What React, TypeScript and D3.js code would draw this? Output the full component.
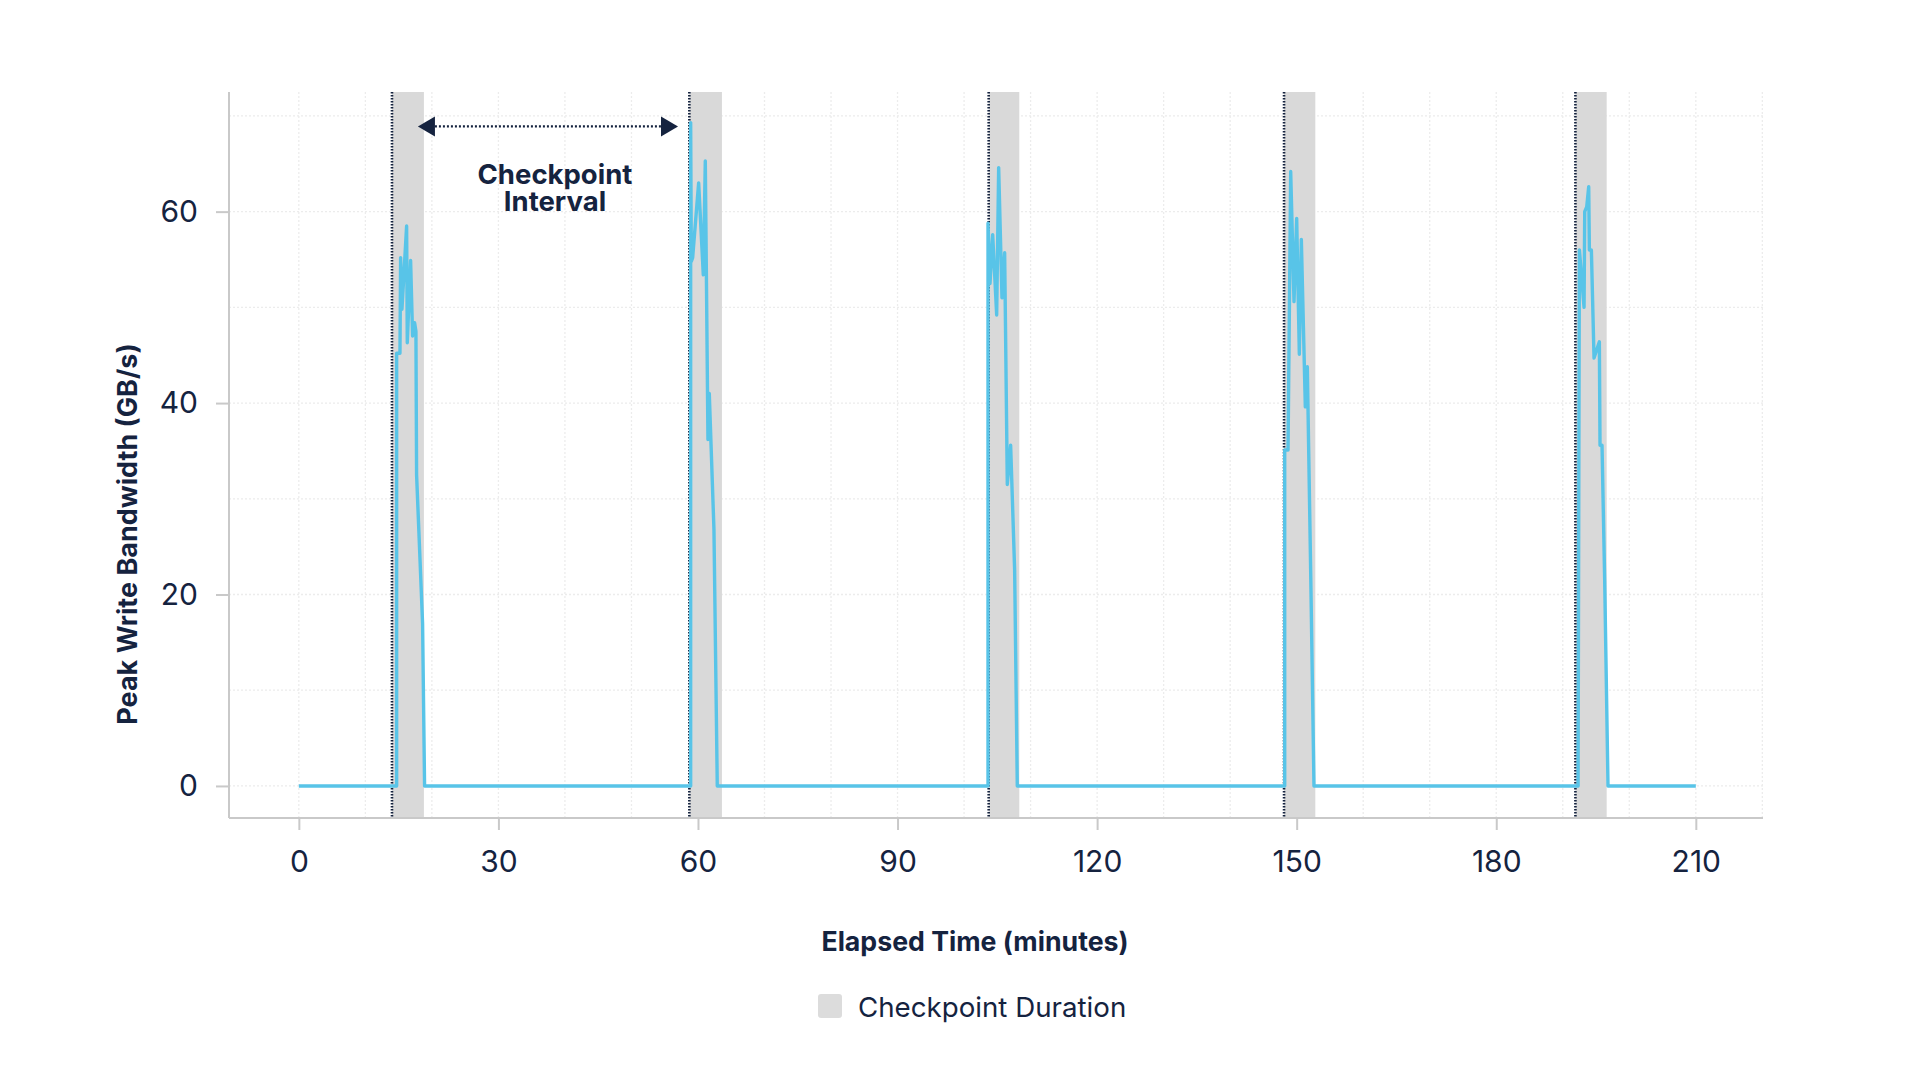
import { useEffect, useRef } from "react";
import * as d3 from "d3";

// checkpoint windows (minutes)
const checkpointStarts = [14.0, 58.7, 103.7, 148.1, 191.9];
const checkpointEnds = [18.8, 63.6, 108.3, 152.8, 196.6];

// write bursts, [minute, GB/s]
const burst1: [number, number][] = [
  [14.7, 0], [14.7, 45.2], [15.2, 45.2], [15.3, 55.2], [15.5, 49.8], [16.2, 58.5],
  [16.3, 46.3], [16.8, 54.9], [17.1, 47], [17.4, 48.4], [17.6, 47.5], [17.7, 32.5],
  [18.6, 17], [18.9, 0],
];
const burst2: [number, number][] = [
  [58.9, 0], [58.9, 69.3], [59.0, 54.8], [59.2, 55.2], [60.1, 63], [60.8, 53.4],
  [61.1, 65.3], [61.5, 36.2], [61.7, 41], [62.4, 26.8], [62.9, 0],
];
const burst3: [number, number][] = [
  [103.6, 0], [103.6, 58.8], [103.9, 52.5], [104.3, 57.6], [104.9, 49.2], [105.2, 64.6],
  [105.7, 51], [106.1, 55.7], [106.5, 31.5], [107.0, 35.6], [107.6, 22.6], [108.0, 0],
];
const burst4: [number, number][] = [
  [148.2, 0], [148.2, 35.1], [148.7, 35.1], [149.1, 64.2], [149.6, 50.6], [150.0, 59.3],
  [150.4, 45.1], [150.7, 57.1], [151.3, 39.6], [151.6, 43.8], [152.1, 22.6], [152.6, 0],
];
const burst5: [number, number][] = [
  [192.3, 0], [192.5, 56], [193.2, 50], [193.3, 60], [193.6, 60.5], [193.9, 62.6],
  [194.0, 56], [194.3, 56], [194.7, 44.7], [195.5, 46.4], [195.6, 35.6], [195.9, 35.6],
  [196.3, 21.5], [196.8, 0],
];
const series: [number, number][] = [
  [0, 0], ...burst1, ...burst2, ...burst3, ...burst4, ...burst5, [210, 0],
];

const timeTicks = [0, 30, 60, 90, 120, 150, 180, 210];
const bandwidthTicks = [0, 20, 40, 60];
const timeGrid = d3.range(0, 221, 10);
const bandwidthGrid = d3.range(0, 71, 10);

// annotation arrow between checkpoints
const intervalArrow = [17.9, 57.0];
const arrowLevel = 68.9;
const intervalLabel = ["Checkpoint", "Interval"];
const intervalLabelAt = 38.5;

const navy = "#15233f";
const font = "Inter, 'Noto Sans', sans-serif";

export default function App() {
  const svgRef = useRef<SVGSVGElement>(null);

  useEffect(() => {
    const svg = d3.select(svgRef.current);
    svg.selectAll("*").remove();

    const left = 229, right = 1763, top = 92, bottom = 818;
    const x = d3.scaleLinear().domain([-10.5, 220.1]).range([left, right]);
    const y = d3.scaleLinear().domain([-3.35, 72.5]).range([bottom, top]);

    // grid
    svg.append("g")
      .selectAll("line")
      .data(bandwidthGrid)
      .enter()
      .append("line")
      .attr("x1", left)
      .attr("x2", right)
      .attr("y1", (d) => y(d))
      .attr("y2", (d) => y(d))
      .attr("stroke", "#ececec")
      .attr("stroke-width", 1.3)
      .attr("stroke-dasharray", "2,2");

    svg.append("g")
      .selectAll("line")
      .data(timeGrid)
      .enter()
      .append("line")
      .attr("x1", (d) => x(d))
      .attr("x2", (d) => x(d))
      .attr("y1", top)
      .attr("y2", bottom)
      .attr("stroke", "#ececec")
      .attr("stroke-width", 1.3)
      .attr("stroke-dasharray", "2,2");

    // checkpoint bands
    svg.append("g")
      .selectAll("rect")
      .data(checkpointStarts)
      .enter()
      .append("rect")
      .attr("x", (d) => x(d))
      .attr("width", (d, i) => x(checkpointEnds[i]) - x(d))
      .attr("y", top)
      .attr("height", bottom - top)
      .attr("fill", "#d9d9d9");

    svg.append("g")
      .selectAll("line")
      .data(checkpointStarts)
      .enter()
      .append("line")
      .attr("x1", (d) => x(d))
      .attr("x2", (d) => x(d))
      .attr("y1", top)
      .attr("y2", bottom)
      .attr("stroke", navy)
      .attr("stroke-width", 2.6)
      .attr("stroke-dasharray", "1.5,1.5");

    // axes
    const xAxis = svg.append("g")
      .attr("transform", `translate(0,${bottom})`)
      .call(d3.axisBottom(x).tickValues(timeTicks).tickSize(12).tickPadding(21).tickSizeOuter(0));
    const yAxis = svg.append("g")
      .attr("transform", `translate(${left},0)`)
      .call(d3.axisLeft(y).tickValues(bandwidthTicks).tickSize(13).tickPadding(18).tickSizeOuter(0));

    [xAxis, yAxis].forEach((a) => {
      a.select(".domain").attr("stroke", "#c9c9c9").attr("stroke-width", 2);
      a.selectAll(".tick line").attr("stroke", "#c9c9c9").attr("stroke-width", 2);
      a.selectAll("text")
        .attr("fill", navy)
        .attr("font-size", 30)
        .attr("font-family", font);
    });
    // domain should span full plot box
    xAxis.select(".domain").attr("d", `M${left},0H${right}`);
    yAxis.select(".domain").attr("d", `M0,${top}V${bottom}`);

    // bandwidth line
    const line = d3.line<[number, number]>()
      .x((d) => x(d[0]))
      .y((d) => y(d[1]));
    svg.append("path")
      .datum(series)
      .attr("d", line)
      .attr("fill", "none")
      .attr("stroke", "#58c4e8")
      .attr("stroke-width", 3.4)
      .attr("stroke-linejoin", "round");

    // interval arrow
    const ay = y(arrowLevel);
    const x0 = x(intervalArrow[0]), x1 = x(intervalArrow[1]);
    const head = 17, half = 10;
    svg.append("line")
      .attr("x1", x0 + head)
      .attr("x2", x1 - head)
      .attr("y1", ay)
      .attr("y2", ay)
      .attr("stroke", navy)
      .attr("stroke-width", 2.2)
      .attr("stroke-dasharray", "2,2");
    svg.append("path")
      .attr("d", `M${x0},${ay}L${x0 + head},${ay - half}L${x0 + head},${ay + half}Z`)
      .attr("fill", navy);
    svg.append("path")
      .attr("d", `M${x1},${ay}L${x1 - head},${ay - half}L${x1 - head},${ay + half}Z`)
      .attr("fill", navy);

    svg.append("text")
      .attr("x", x(intervalLabelAt))
      .attr("y", 184)
      .attr("text-anchor", "middle")
      .attr("font-size", 27.5)
      .attr("font-weight", 700)
      .attr("font-family", font)
      .attr("fill", navy)
      .selectAll("tspan")
      .data(intervalLabel)
      .enter()
      .append("tspan")
      .attr("x", x(intervalLabelAt))
      .attr("dy", (d, i) => (i === 0 ? 0 : 27))
      .text((d) => d);

    // axis titles
    svg.append("text")
      .attr("x", 975)
      .attr("y", 951)
      .attr("text-anchor", "middle")
      .attr("font-size", 26.7)
      .attr("font-weight", 700)
      .attr("font-family", font)
      .attr("fill", navy)
      .text("Elapsed Time (minutes)");

    svg.append("text")
      .attr("transform", "rotate(-90)")
      .attr("x", -534)
      .attr("y", 137)
      .attr("text-anchor", "middle")
      .attr("font-size", 27)
      .attr("font-weight", 700)
      .attr("font-family", font)
      .attr("fill", navy)
      .text("Peak Write Bandwidth (GB/s)");

    // legend
    svg.append("rect")
      .attr("x", 818)
      .attr("y", 994)
      .attr("width", 24)
      .attr("height", 24)
      .attr("rx", 3)
      .attr("fill", "#dcdcdc");
    svg.append("text")
      .attr("x", 858)
      .attr("y", 1017)
      .attr("font-size", 27.7)
      .attr("font-family", font)
      .attr("fill", navy)
      .text("Checkpoint Duration");
  }, []);

  return (
    <div style={{ position: "absolute", left: 0, top: 0, background: "#fff" }}>
      <svg ref={svgRef} width={1920} height={1080} />
    </div>
  );
}
